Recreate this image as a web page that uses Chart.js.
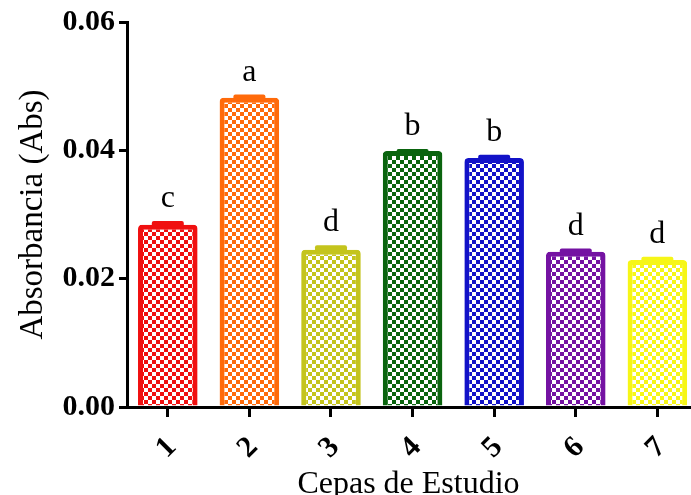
<!DOCTYPE html>
<html>
<head>
<meta charset="utf-8">
<script src="https://cdn.jsdelivr.net/npm/chart.js@4.4.1/dist/chart.umd.min.js"></script>
<style>
  html, body { margin: 0; padding: 0; background: #fff; }
  #wrap { width: 691px; height: 495px; position: relative; }
</style>
</head>
<body>
<div id="wrap"><canvas id="chart"></canvas></div>
<script>
const categories = ["1", "2", "3", "4", "5", "6", "7"];
const absorbance = [0.0284, 0.0482, 0.0245, 0.0399, 0.0388, 0.0242, 0.0229];
const sem = [0.0006, 0.0005, 0.0007, 0.0003, 0.0005, 0.0005, 0.0005];
const groups = ["c", "a", "d", "b", "b", "d", "d"];
const yTicks = [0, 0.02, 0.04, 0.06];
const barColors = ["#f01010", "#ff6a0a", "#c4c41c", "#0a640e", "#1212c8", "#7412a2", "#f6f618"];

function checker(color) {
  const c = document.createElement("canvas");
  c.width = 8;
  c.height = 8;
  const g = c.getContext("2d");
  g.fillStyle = "#fff";
  g.fillRect(0, 0, 8, 8);
  g.fillStyle = color;
  g.fillRect(0, 0, 4, 4);
  g.fillRect(4, 4, 4, 4);
  return g.createPattern(c, "repeat");
}

const errorBars = {
  id: "errorBars",
  afterDatasetsDraw(chart) {
    const ctx = chart.ctx;
    const meta = chart.getDatasetMeta(0);
    const y = chart.scales.y;
    ctx.save();
    meta.data.forEach((bar, i) => {
      const top = y.getPixelForValue(absorbance[i] + sem[i]);
      ctx.fillStyle = barColors[i];
      ctx.beginPath();
      ctx.roundRect(bar.x - 16, top, 32, bar.y - top + 3, 2);
      ctx.fill();
      ctx.fillStyle = "#000";
      ctx.font = "32px 'Liberation Serif'";
      ctx.textAlign = "center";
      ctx.textBaseline = "alphabetic";
      ctx.fillText(groups[i], bar.x, top - 14);
    });
    ctx.restore();
  },
};

new Chart(document.getElementById("chart"), {
  type: "bar",
  data: {
    datasets: [{
      data: absorbance.map((v, i) => ({ x: i + 1, y: v })),
      backgroundColor: barColors.map(checker),
      borderColor: barColors,
      borderWidth: 5,
      borderRadius: 4,
      borderSkipped: "bottom",
      barPercentage: 0.73,
      categoryPercentage: 1,
    }],
  },
  options: {
    responsive: true,
    maintainAspectRatio: false,
    animation: false,
    layout: { padding: { top: 22, right: 1, left: 0, bottom: 0 } },
    plugins: { legend: { display: false }, tooltip: { enabled: false } },
    scales: {
      x: {
        type: "linear",
        min: 0.5,
        max: 7.4,
        offset: false,
        afterBuildTicks(scale) {
          scale.ticks = categories.map((c, i) => ({ value: i + 1 }));
        },
        afterFit(scale) {
          scale.height = 88;
          scale.paddingLeft = 0;
          scale.paddingRight = 0;
        },
        border: { color: "#000", width: 3 },
        grid: { offset: false, drawOnChartArea: false, drawTicks: true, tickLength: 10, color: "#000", lineWidth: 3 },
        ticks: {
          color: "#000",
          font: { family: "'Liberation Serif'", size: 30, weight: "bold" },
          maxRotation: 45,
          minRotation: 45,
          padding: 13,
          labelOffset: 4,
          callback: (v) => categories[v - 1],
        },
        title: {
          display: true,
          text: "Cepas de Estudio",
          color: "#000",
          font: { family: "'Liberation Serif'", size: 32 },
          padding: { top: 0, bottom: -9 },
        },
      },
      y: {
        min: 0,
        max: 0.06,
        afterBuildTicks(scale) {
          scale.ticks = yTicks.map((v) => ({ value: v }));
        },
        afterFit(scale) { scale.width = 127; },
        border: { color: "#000", width: 3 },
        grid: { drawOnChartArea: false, drawTicks: true, tickLength: 8, color: "#000", lineWidth: 3 },
        ticks: {
          color: "#000",
          font: { family: "'Liberation Serif'", size: 30, weight: "bold" },
          padding: 4,
          callback: (v) => v.toFixed(2),
        },
        title: {
          display: true,
          text: "Absorbancia (Abs)",
          color: "#000",
          font: { family: "'Liberation Serif'", size: 33 },
          padding: { top: 14, bottom: 0 },
        },
      },
    },
  },
  plugins: [errorBars],
});
</script>
</body>
</html>
